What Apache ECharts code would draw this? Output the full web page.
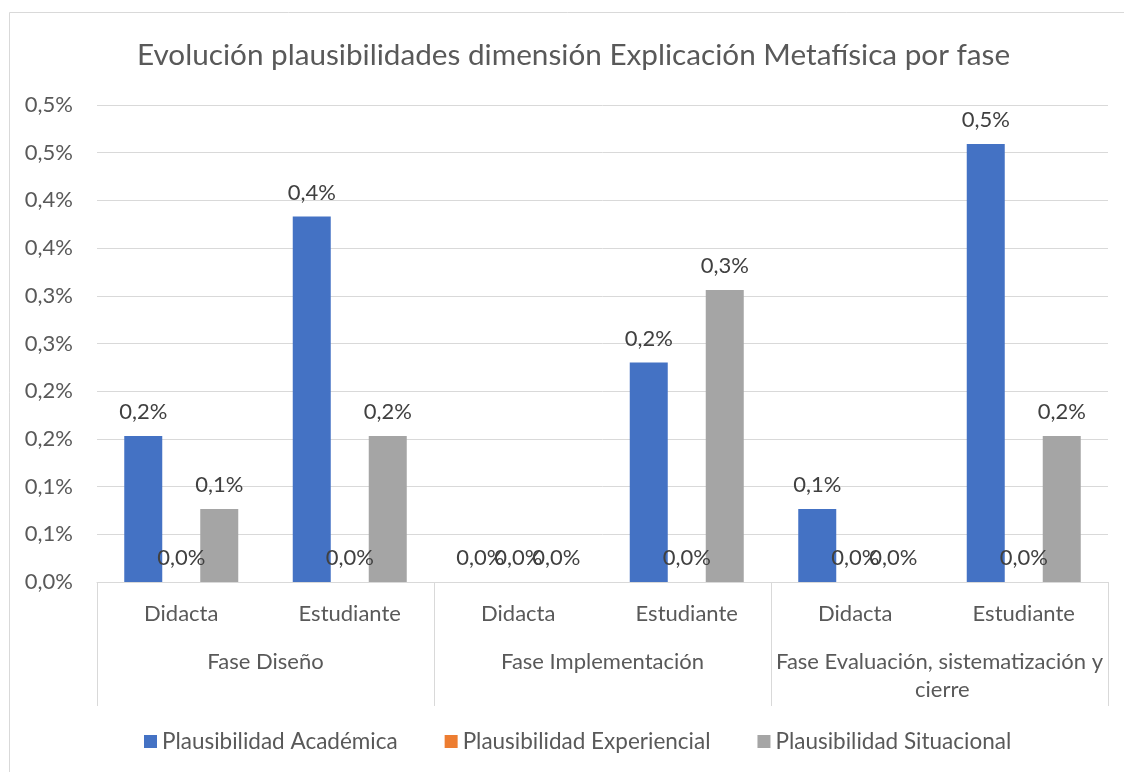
<!DOCTYPE html>
<html>
<head>
<meta charset="utf-8">
<script src="https://cdn.jsdelivr.net/npm/echarts@6/dist/echarts.min.js"></script>
<style>
html,body{margin:0;padding:0;background:#fff;}
#chart{width:1124px;height:772px;}
</style>
</head>
<body>
<div id="chart"></div>
<script>
const titleText = 'Evolución plausibilidades dimensión Explicación Metafísica por fase';
const subCategories = ['Didacta', 'Estudiante', 'Didacta', 'Estudiante', 'Didacta', 'Estudiante'];
const phases = ['Fase Diseño', 'Fase Implementación', 'Fase Evaluación, sistematización y cierre'];
const seriesNames = ['Plausibilidad Académica', 'Plausibilidad Experiencial', 'Plausibilidad Situacional'];
const academica = [0.153, 0.383, 0, 0.230, 0.0765, 0.459];
const experiencial = [0, 0, 0, 0, 0, 0];
const situacional = [0.0765, 0.153, 0, 0.306, 0, 0.153];
const yTickLabels = ['0,0%', '0,1%', '0,1%', '0,2%', '0,2%', '0,3%', '0,3%', '0,4%', '0,4%', '0,5%', '0,5%'];
const colors = ['#4472C4', '#ED7D31', '#A5A5A5'];

const FONT = 'Lato';
const TXT = '#595959';
const fmtPct = v => (Math.round(v * 10 + 1e-9) / 10).toFixed(1).replace('.', ',') + '%';

const chart = echarts.init(document.getElementById('chart'), null, {renderer: 'canvas'});
const mkSeries = (name, data, i) => ({
  name: name,
  type: 'bar',
  xAxisIndex: 0,
  data: data,
  barWidth: 38,
  barGap: '0%',
  itemStyle: {color: colors[i]},
  label: {
    show: true,
    position: 'top',
    distance: 13,
    formatter: p => fmtPct(p.value),
    fontFamily: FONT,
    fontSize: 22,
    color: '#404040'
  }
});

chart.setOption({
  animation: false,
  backgroundColor: '#fff',
  textStyle: {fontFamily: FONT},
  graphic: [{
    type: 'rect',
    shape: {x: 9.5, y: 12.5, width: 1200, height: 800},
    style: {fill: 'none', stroke: '#d9d9d9', lineWidth: 1},
    z: -10
  }],
  title: {
    text: titleText,
    left: 132,
    top: 35,
    textStyle: {fontFamily: FONT, fontSize: 29.7, fontWeight: 'normal', color: TXT}
  },
  legend: {
    bottom: 14,
    left: 139,
    itemWidth: 13,
    itemHeight: 13,
    itemGap: 47,
    icon: 'rect',
    textStyle: {fontFamily: FONT, fontSize: 22.5, color: TXT},
    data: seriesNames
  },
  grid: {left: 97, right: 16, top: 105, bottom: 190},
  xAxis: [{
    type: 'category',
    data: subCategories,
    position: 'bottom',
    axisLine: {show: true, lineStyle: {color: '#d9d9d9', width: 1}},
    axisTick: {show: false},
    axisLabel: {interval: 0, margin: 21, fontFamily: FONT, fontSize: 22, color: TXT}
  }, {
    type: 'category',
    data: phases,
    position: 'bottom',
    axisLine: {show: false},
    axisTick: {show: true, length: 124, interval: 0, lineStyle: {color: '#d9d9d9', width: 1}},
    axisLabel: {interval: 0, margin: 66, fontFamily: FONT, fontSize: 22, color: TXT,
      width: 350, overflow: 'break', lineHeight: 28, align: 'center'}
  }],
  yAxis: {
    type: 'value',
    min: 0,
    max: 0.5,
    interval: 0.05,
    axisLine: {show: false},
    axisTick: {show: false},
    splitLine: {lineStyle: {color: '#d9d9d9', width: 1}},
    axisLabel: {
      margin: 24,
      fontFamily: FONT, fontSize: 22, color: TXT,
      formatter: v => yTickLabels[Math.round(v / 0.05)]
    }
  },
  series: [
    mkSeries(seriesNames[0], academica, 0),
    mkSeries(seriesNames[1], experiencial, 1),
    mkSeries(seriesNames[2], situacional, 2)
  ]
});
</script>
</body>
</html>
